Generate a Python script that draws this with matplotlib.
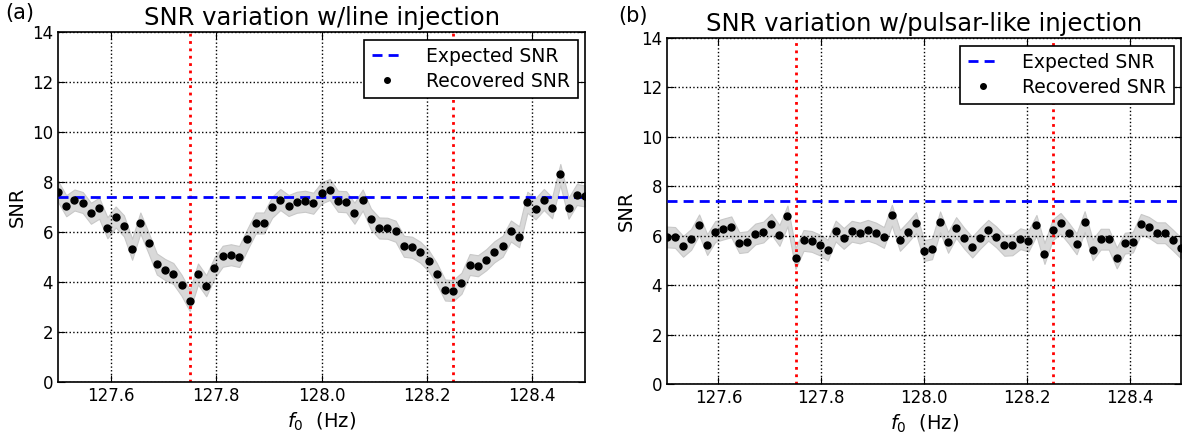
import numpy as np
import matplotlib
matplotlib.use("Agg")
import matplotlib.pyplot as plt

# frequencies: 65 template points from 127.5 to 128.5 Hz (step 1/64)
f0 = 127.5 + np.arange(65) / 64.0

snr_line = [7.62, 7.05, 7.28, 7.18, 6.75, 6.95, 6.17, 6.60, 6.25, 5.31,
            6.36, 5.56, 4.72, 4.50, 4.34, 3.87, 3.26, 4.32, 3.85, 4.57,
            5.03, 5.09, 5.02, 5.71, 6.36, 6.36, 6.99, 7.30, 7.06, 7.19,
            7.23, 7.15, 7.56, 7.70, 7.23, 7.21, 6.75, 7.28, 6.52, 6.16,
            6.15, 6.03, 5.43, 5.39, 5.19, 4.86, 4.34, 3.68, 3.66, 3.95,
            4.70, 4.65, 4.89, 5.21, 5.43, 6.04, 5.81, 7.19, 6.93, 7.30,
            6.97, 8.30, 6.95, 7.50, 7.44]

snr_pulsar = [5.95, 5.93, 5.57, 5.85, 6.44, 5.64, 6.17, 6.27, 6.36, 5.72,
              5.76, 6.07, 6.15, 6.47, 6.01, 6.80, 5.08, 5.81, 5.77, 5.63,
              5.42, 6.19, 5.89, 6.18, 6.11, 6.22, 6.11, 5.93, 6.83, 5.81,
              6.15, 6.53, 5.40, 5.47, 6.56, 5.73, 6.33, 5.90, 5.54, 5.90,
              6.22, 5.95, 5.61, 5.63, 5.88, 5.78, 6.42, 5.28, 6.23, 6.50,
              6.11, 5.67, 6.57, 5.43, 5.86, 5.86, 5.10, 5.70, 5.74, 6.46,
              6.34, 6.12, 6.12, 5.82, 5.50]

snr_err = 0.42         # half-width of the grey band
expected_snr = 7.4
line_freqs = [127.75, 128.25]

W, H = 1182, 438
fig = plt.figure(figsize=(W / 100, H / 100), dpi=100)

panels = [
    ("(a)", "SNR variation w/line injection", snr_line, [58, 32, 585, 382], (5, 3)),
    ("(b)", "SNR variation w/pulsar-like injection", snr_pulsar, [667, 38, 1181, 384], (618, 6)),
]

for tag, title, snr, (x0, y0, x1, y1), (tx, ty) in panels:
    ax = fig.add_axes([x0 / W, 1 - y1 / H, (x1 - x0) / W, (y1 - y0) / H])
    snr = np.array(snr)
    ax.fill_between(f0, snr - snr_err, snr + snr_err, color="#d9d9d9",
                    edgecolor="#c8c8c8", linewidth=0.8, zorder=1)
    ax.axhline(expected_snr, color="blue", ls="--", lw=2, dashes=(3.6, 2.2),
               label="Expected SNR", zorder=3)
    ax.plot(f0, snr, "o", color="black", ms=5, label="Recovered SNR", zorder=4)
    for fl in line_freqs:
        ax.axvline(fl, color="red", ls=":", lw=2, zorder=2)

    ax.set_xlim(127.5, 128.5)
    ax.set_ylim(0, 14)
    ax.set_xticks([127.6, 127.8, 128.0, 128.2, 128.4])
    ax.set_yticks(range(0, 15, 2))
    ax.tick_params(direction="in", top=True, right=True, labelsize=12, length=5)
    ax.grid(True, color="black", ls=":", lw=1)
    ax.set_xlabel(r"$f_0$  (Hz)", fontsize=14)
    ax.set_ylabel("SNR", fontsize=14)
    ax.set_title(title, fontsize=17.5, pad=5)
    for s in ax.spines.values():
        s.set_linewidth(1.2)

    leg = ax.legend(loc="upper right", fancybox=False, edgecolor="black",
                    fontsize=13.5, numpoints=1, handlelength=1.6,
                    handletextpad=1.3, markerscale=0.8, labelspacing=0.3,
                    borderaxespad=0.4, framealpha=1)
    leg.get_frame().set_linewidth(1.2)

    fig.text(tx / W, 1 - ty / H, tag, fontsize=15, va="top")

fig.savefig("out.png", dpi=100)
